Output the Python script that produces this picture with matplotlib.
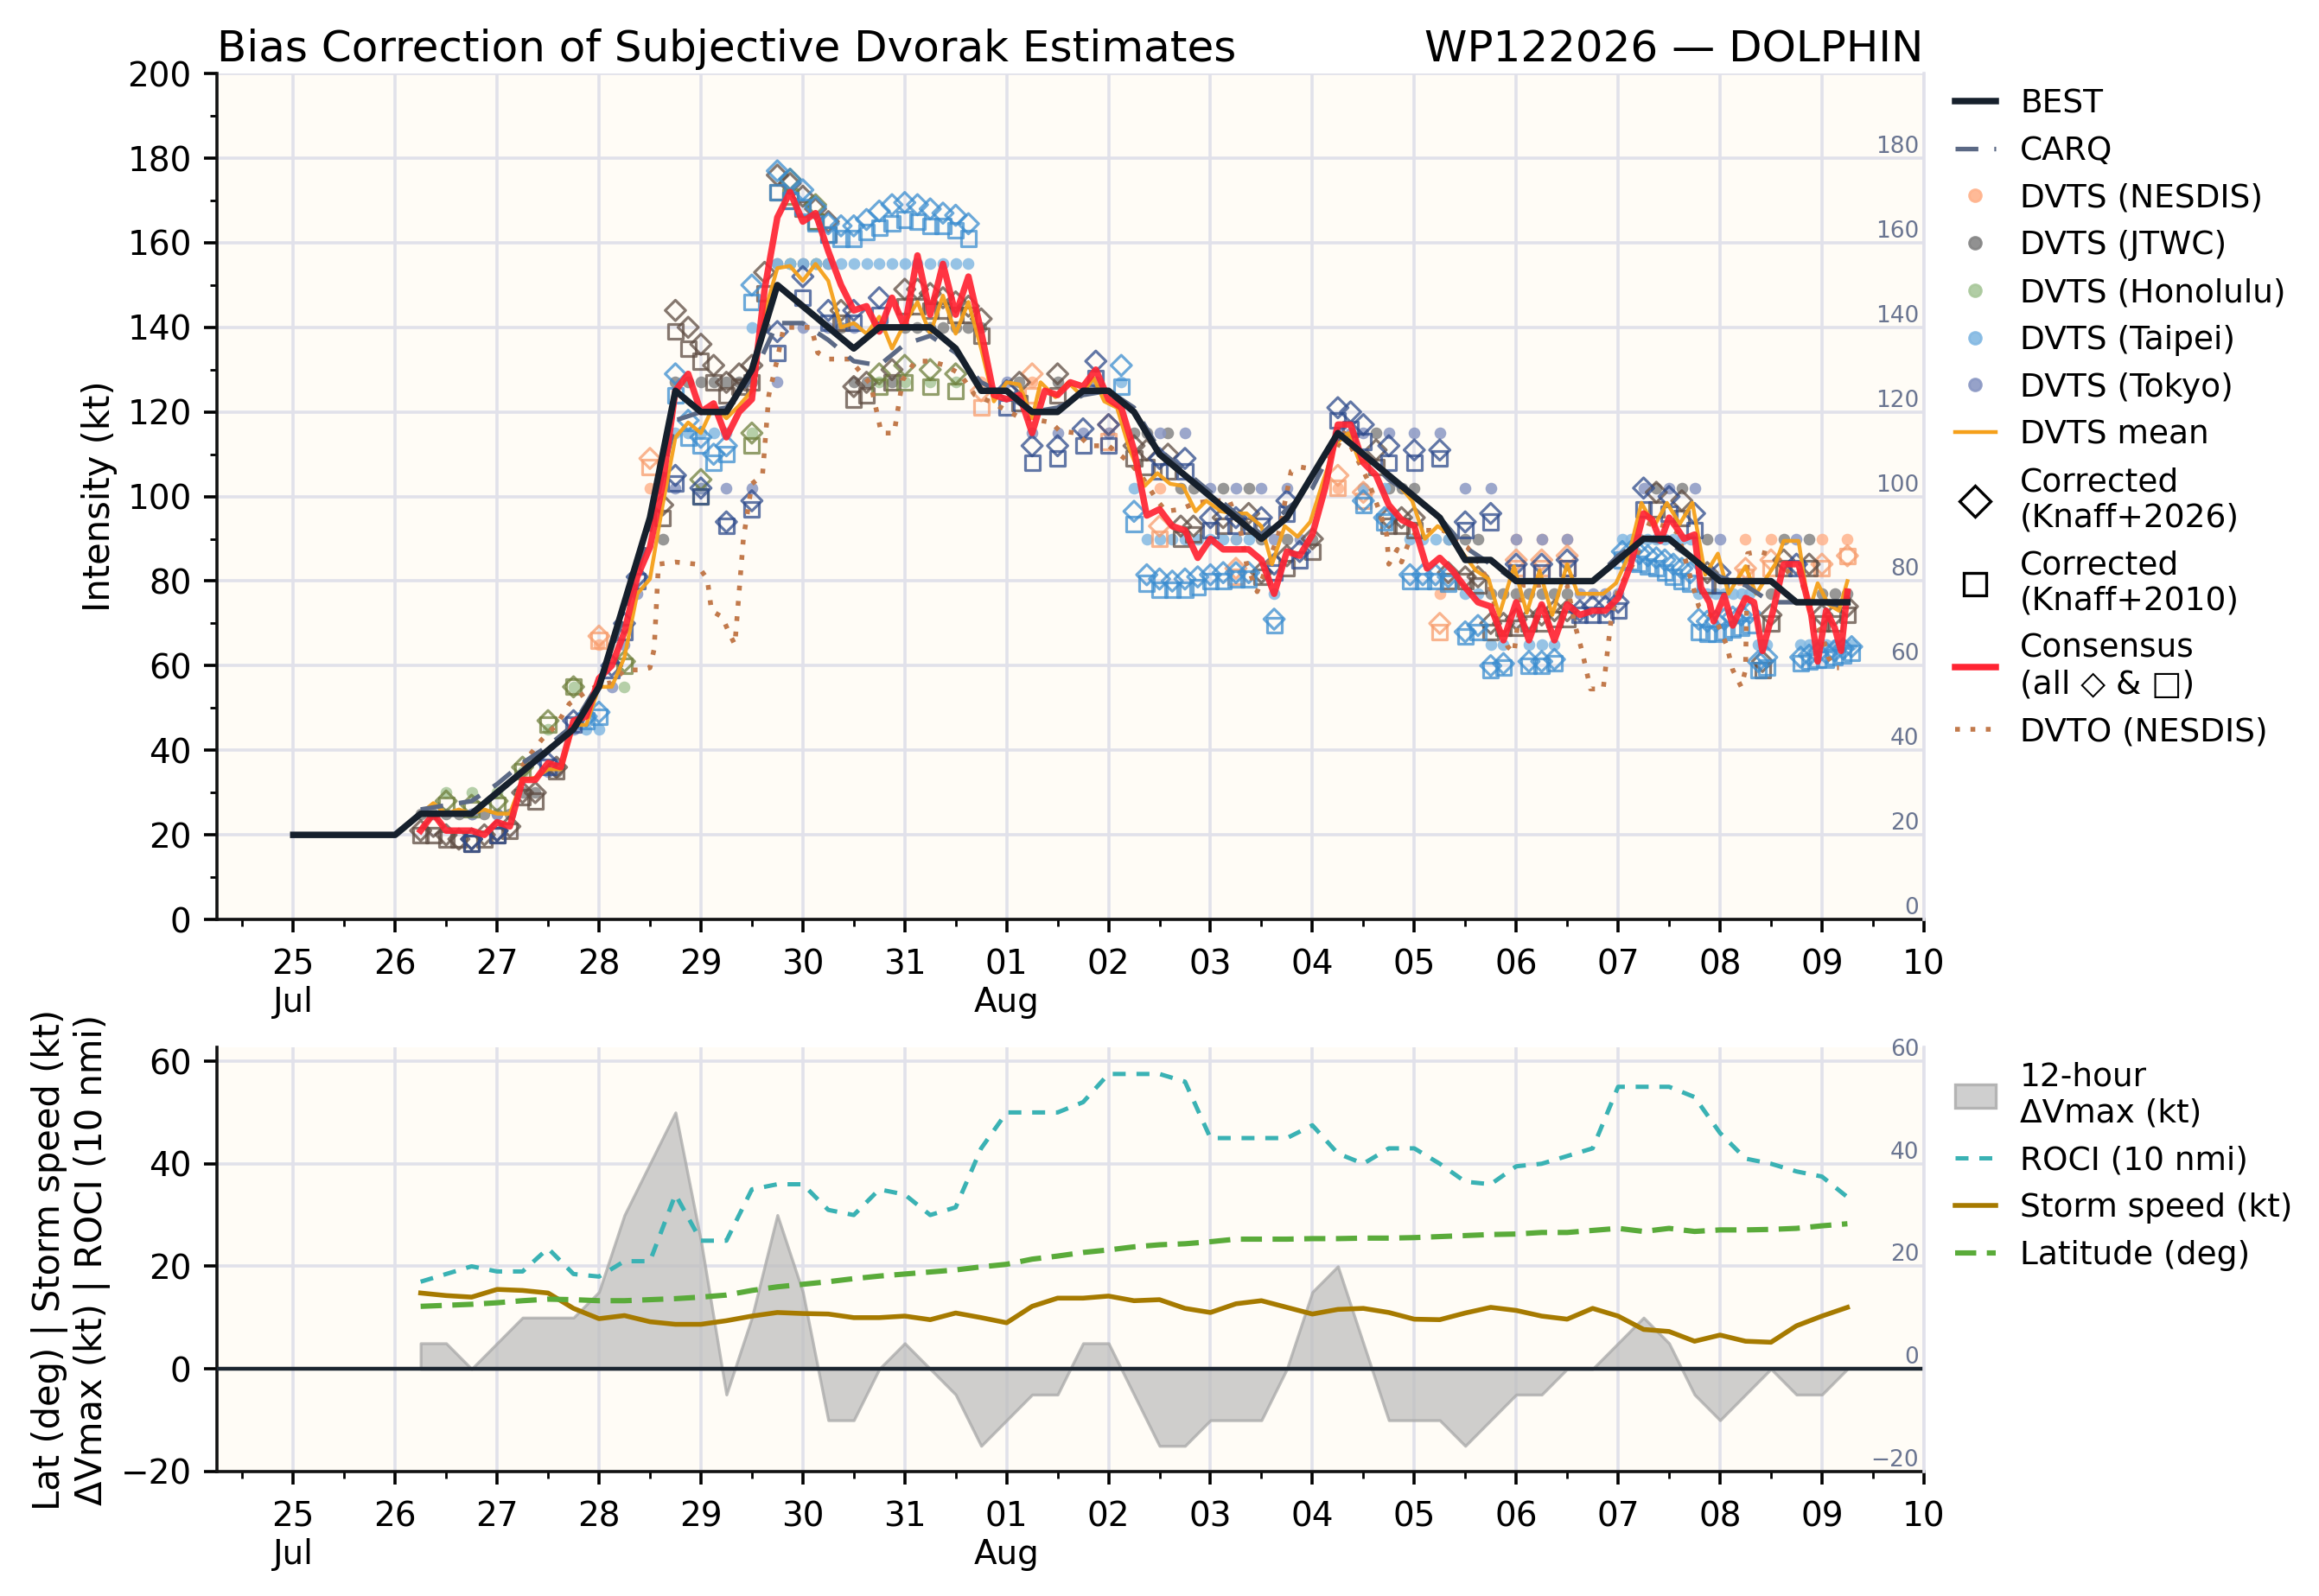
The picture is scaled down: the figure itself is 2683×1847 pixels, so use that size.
import datetime as dt
import numpy as np
import matplotlib
matplotlib.use("Agg")
import matplotlib.pyplot as plt
import matplotlib.dates as mdates
from matplotlib.lines import Line2D
from matplotlib.patches import Patch
from matplotlib.ticker import MultipleLocator, FuncFormatter

# ---- data (hours after 2026-07-25 00Z) ----
best_h = list(range(0, 367, 6))
best_v = [20, 20, 20, 20, 20, 25, 25, 25, 30, 35, 40, 45, 55, 75, 95, 125,
          120, 120, 130, 150, 145, 140, 135, 140, 140, 140, 135, 125,
          125, 120, 120, 125, 125, 120, 110, 105, 100, 95, 90, 95,
          105, 115, 110, 105, 100, 95, 85, 85, 80, 80, 80, 80,
          85, 90, 90, 85, 80, 80, 80, 75, 75, 75]

env_h = list(range(30, 367, 6))
carq_v = [26, 27, 28, 32, 37, 41, 46, 56, 72, 92, 118, 120, 121, 128, 141,
          141, 137, 132, 131, 136, 138, 134, 127, 124, 120, 121, 124,
          125, 121, 111, 106, 101, 96, 91, 97, 102, 114, 110, 104,
          100, 95, 88, 84, 80, 80, 80, 80, 86, 90, 89, 85, 81, 79, 75, 75, 75, 74]
dv12 = [5, 5, 0, 5, 10, 10, 10, 15, 30, 40, 50, 25, -5, 10, 30, 15, -10, -10, 0,
        5, 0, -5, -15, -10, -5, -5, 5, 5, -5, -15, -15, -10, -10, -10, 0,
        15, 20, 5, -10, -10, -10, -15, -10, -5, -5, 0, 0, 5, 10, 5, -5,
        -10, -5, 0, -5, -5, 0]
roci = [17, 18.5, 20, 19, 19, 23.5, 18.5, 18, 21, 21, 34, 25, 25, 35, 36,
        36, 31, 30, 35, 34, 30, 31.5, 43, 50, 50, 50, 52, 57.5, 57.5, 57.5, 56,
        45, 45, 45, 45, 47.5, 42, 40, 43, 43, 40, 36.5, 36, 39.5, 40, 41.5, 43,
        55, 55, 55, 53, 46, 41, 40, 38.5, 37.5, 33.5]
speed = [14.8, 14.3, 14, 15.5, 15.3, 14.8, 11.8, 9.8, 10.4, 9.2, 8.7, 8.7, 9.4,
         10.3, 11, 10.8, 10.7, 10, 10, 10.3, 9.6, 10.9, 10, 9, 12.2, 13.8, 13.8,
         14.2, 13.3, 13.5, 11.8, 11, 12.7, 13.3, 12, 10.7, 11.6, 11.8, 11, 9.7,
         9.6, 10.9, 12, 11.4, 10.3, 9.7, 11.8, 10.3, 7.7, 7.3, 5.4, 6.6, 5.4,
         5.2, 8.4, 10.3, 12]
lat = [12.2, 12.4, 12.6, 12.9, 13.3, 13.6, 13.5, 13.3, 13.3, 13.5, 13.7, 14.0,
       14.4, 15.3, 16.0, 16.5, 17.0, 17.6, 18.1, 18.5, 18.9, 19.3, 19.9, 20.4,
       21.4, 22.0, 22.7, 23.2, 23.8, 24.2, 24.4, 24.8, 25.3, 25.3, 25.3, 25.4,
       25.4, 25.5, 25.5, 25.6, 25.8, 26.0, 26.2, 26.3, 26.6, 26.6, 27.0, 27.4,
       26.8, 27.4, 26.8, 27.1, 27.1, 27.2, 27.4, 27.9, 28.3]

# DVTS fixes per agency: (hour, DVTS kt, Knaff+2026 kt, Knaff+2010 kt)
nesdis = [(72, 65, 67, 66), (84, 102, 109, 107), (162, 127, 125, 121), (174, 127, 129, 124),
          (192, 115, 117, 113), (204, 102, 93, 90), (222, 90, 83, 81), (246, 102, 105, 102),
          (252, 102, 101, 99), (270, 77, 70, 68), (288, 90, 85, 83), (294, 90, 85, 83),
          (300, 90, 86, 83), (342, 90, 83, 81), (348, 90, 85, 83), (360, 90, 84, 83),
          (366, 90, 86, 86)]
jtwc = [(30, 25, 21, 20), (33, 25, 22, 20), (36, 25, 20, 19), (39, 25, 19, 19), (42, 25, 19, 18),
        (45, 25, 20, 19), (48, 25, 21, 20), (51, 25, 22, 21), (54, 30, 30, 29), (57, 30, 30, 28),
        (62, 35, 36, 35), (87, 90, 98, 95), (90, 127, 144, 139), (93, 127, 140, 135),
        (96, 127, 136, 132), (99, 127, 131, 127), (102, 127, 127, 124), (105, 127, 129, 126),
        (108, 127, 131, 127), (111, 140, 153, 148), (114, 155, 176, 172), (117, 155, 174, 170),
        (120, 155, 171, 168), (123, 155, 168, 165), (126, 155, 165, 162), (129, 140, 144, 141),
        (132, 127, 126, 123), (135, 127, 127, 124), (141, 127, 130, 127), (144, 140, 149, 145),
        (147, 140, 149, 145), (150, 140, 148, 144), (153, 140, 147, 144), (156, 140, 146, 143),
        (159, 140, 145, 143), (162, 140, 142, 138), (171, 127, 127, 122), (180, 127, 129, 124),
        (198, 115, 112, 109), (201, 115, 111, 107), (206, 115, 110, 106), (209, 102, 93, 90),
        (212, 102, 93, 91), (219, 102, 95, 93), (225, 102, 96, 93), (228, 90, 82, 81),
        (234, 90, 86, 83), (240, 90, 90, 87), (255, 115, 111, 107), (258, 102, 95, 93),
        (261, 102, 95, 93), (264, 102, 95, 92), (272, 90, 82, 80), (276, 90, 81, 80),
        (279, 90, 81, 79), (282, 77, 70, 68), (285, 77, 70, 69), (288, 77, 71, 69),
        (291, 77, 71, 70), (294, 77, 72, 70), (297, 77, 73, 71), (300, 77, 73, 71),
        (321, 102, 101, 97), (327, 102, 99, 95), (333, 90, 82, 79), (346, 65, 61, 59),
        (348, 77, 72, 70), (351, 90, 85, 83), (357, 90, 84, 83), (360, 77, 72, 70),
        (363, 77, 72, 70), (366, 77, 74, 72)]
honolulu = [(36, 30, 28, 27), (42, 30, 27, 26), (48, 30, 28, 27), (54, 35, 36, 35),
            (60, 45, 47, 46), (66, 55, 55, 55), (78, 55, 61, 60), (96, 102, 104, 100),
            (108, 115, 115, 112), (117, 155, 175, 171), (123, 155, 169, 165),
            (138, 127, 129, 126), (144, 127, 131, 127), (150, 127, 130, 126), (156, 127, 129, 125)]
taipei = [(69, 45, 48, 47), (72, 45, 49, 48), (90, 115, 129, 124), (93, 115, 118, 114),
          (96, 115, 114, 112), (99, 115, 110, 108), (102, 115, 112, 110), (108, 140, 150, 146),
          (114, 155, 177, 172), (117, 155, 175, 170), (120, 155, 172.5, 168.5), (123, 155, 168.5, 164.5),
          (126, 155, 164.5, 162), (129, 155, 164, 161), (132, 155, 164, 161), (135, 155, 165.5, 162.5),
          (138, 155, 167.5, 163.5), (141, 155, 169, 164.5), (144, 155, 169.5, 165.5), (147, 155, 169, 165),
          (150, 155, 168, 164), (153, 155, 167, 164), (156, 155, 166.5, 163), (159, 155, 164.5, 161),
          (195, 127, 131, 126), (198, 102, 96.5, 93.5), (201, 90, 81.5, 79.5), (204, 90, 80.5, 78),
          (207, 90, 80, 78), (210, 90, 80.5, 78), (213, 90, 81, 78.5), (216, 90, 81.5, 80),
          (219, 90, 82, 80), (222, 90, 82, 80.5), (225, 90, 82, 80.5), (231, 77, 71, 69.5),
          (252, 102, 99, 98), (257, 102, 95, 94), (263, 90, 81.5, 80), (266, 90, 81.5, 80),
          (269, 90, 81.5, 80), (272, 90, 81, 79.5), (276, 77, 68, 67), (279, 77, 69.5, 68),
          (282, 65, 60, 59), (285, 65, 60.5, 59.5), (291, 65, 61, 60), (294, 65, 61, 60),
          (297, 65, 61.5, 60.5), (313, 90, 87, 85), (315, 90, 87, 84.5), (317, 90, 86.5, 84),
          (319, 90, 86, 83.5), (321, 90, 85.5, 83), (323, 90, 85, 82), (325, 90, 84, 81),
          (327, 90, 83, 80), (329, 90, 82, 79.5), (331, 77, 71, 68), (333, 77, 70.5, 67.5),
          (335, 77, 70.5, 67.5), (337, 77, 71, 68), (339, 77, 71.5, 68.5), (341, 77, 72, 69),
          (343, 77, 72.5, 69.5), (345, 65, 61, 59), (347, 65, 62, 59.5), (355, 65, 62, 60.5),
          (357, 65, 62.5, 61), (359, 65, 63, 61.5), (361, 65, 63, 61.5), (363, 65, 63.5, 62),
          (365, 65, 64, 62.5), (367, 65, 64.5, 63)]
tokyo = [(42, 25, 19, 18), (48, 25, 21, 20), (60, 35, 37, 36), (66, 45, 47, 46), (75, 55, 60, 59),
         (78, 65, 70, 68), (81, 77, 81, 80), (90, 102, 105, 103), (96, 102, 102, 100),
         (102, 102, 94, 93), (108, 102, 99, 97), (114, 127, 139, 134), (120, 140, 152, 147),
         (126, 140, 144, 141), (132, 140, 144, 141), (138, 140, 147, 143), (168, 127, 125, 121),
         (174, 115, 112, 108), (180, 115, 112, 109), (186, 115, 116, 112), (189, 127, 132, 128),
         (192, 115, 117, 112), (204, 115, 109, 106), (210, 115, 109, 106), (216, 102, 95, 92),
         (222, 102, 95, 93), (228, 102, 95, 93), (231, 90, 84, 82), (234, 102, 99, 96),
         (237, 90, 87, 85), (246, 115, 121, 118), (249, 115, 120, 116), (252, 115, 117, 113),
         (258, 115, 112, 108), (264, 115, 111, 108), (270, 115, 111, 109), (276, 102, 94, 92),
         (282, 102, 96, 94), (288, 90, 84, 82), (294, 90, 84, 82), (300, 90, 85, 83),
         (303, 77, 73, 72), (306, 77, 74, 72), (309, 77, 74, 72), (312, 77, 75, 73),
         (318, 102, 102, 97), (324, 102, 100, 96), (330, 102, 96, 92), (336, 90, 82, 79),
         (354, 90, 84, 83)]

dvts_mean = [(30, 25), (33, 27.5), (36, 25), (39, 26), (42, 25), (45, 26), (48, 25), (51, 25),
             (54, 33), (57, 33.5), (60, 35.5), (63, 35.5), (66, 46), (69, 46), (72, 55), (75, 55),
             (78, 62), (81, 77), (84, 80.5), (87, 98), (90, 114), (93, 117.5), (96, 115), (99, 121.5),
             (102, 118.5), (105, 121.5), (108, 125), (111, 143.5), (114, 154), (117, 154.5), (120, 151),
             (123, 155), (126, 151), (129, 140), (132, 141), (135, 138.5), (138, 142.5), (141, 135),
             (144, 141), (147, 146), (150, 138.5), (153, 147.5), (156, 138.5), (159, 146), (162, 135),
             (165, 122.5), (168, 127), (171, 126.5), (174, 118.5), (176, 127), (179.5, 123.5),
             (182.5, 127), (185.5, 124), (188.5, 128), (191, 122.5), (194, 121), (197, 111),
             (200.5, 102.5), (203.5, 105.5), (206.5, 103), (209.5, 102.5), (212.5, 96.5), (215, 99),
             (218.5, 96.5), (221.5, 96), (224.5, 96), (228, 93), (230.5, 84), (233.5, 93),
             (236.5, 90.5), (239.5, 94), (242.5, 103.5), (245.5, 112.5), (248.5, 115), (251, 108.5),
             (254.5, 108), (257.5, 105), (260.5, 102.5), (263.5, 99), (266.5, 90), (269.5, 93),
             (272.5, 91), (275.5, 86.5), (278.5, 82.5), (281.5, 80.5), (284, 72), (287.5, 83.5),
             (290.5, 72.5), (293.5, 82.5), (296.5, 72), (300, 84), (302.5, 77), (305.5, 77),
             (308.5, 77), (311.5, 79.5), (314.5, 86), (317.5, 98.5), (320.5, 93), (323.5, 98.5),
             (326.5, 93.5), (329.5, 98.5), (332.5, 81.5), (335.5, 86.5), (338, 77), (342, 83.5),
             (344.5, 77), (349, 84), (351, 89.5), (354.5, 89.5), (357, 73), (359, 79.5),
             (361.5, 74.5), (364, 73), (366, 80)]
consensus = [(30, 21), (33, 25), (36, 21), (39, 21), (42, 21), (45, 20), (48, 23), (51, 22),
             (54, 33), (57, 33), (60, 37), (63, 36), (66, 47), (69, 48), (72, 57), (75, 60),
             (78, 68), (81, 81), (84, 88), (87, 103), (90, 125), (93, 129), (96, 120), (99, 122),
             (102, 114), (105, 120), (108, 123), (111, 149), (114, 166), (117, 172), (120, 165),
             (123, 167), (126, 158), (129, 150), (132, 144), (135, 145), (138, 139), (141, 147),
             (144, 140), (147, 157), (150, 143), (153, 155), (156, 143), (159, 152), (162, 139),
             (165, 124), (168, 123), (171, 124), (174, 115), (177, 125), (180, 124), (183, 127),
             (186, 126), (189, 130), (192, 123), (195, 121), (198, 111), (201, 95.5), (204, 97),
             (207, 93), (210, 92), (213, 85.5), (216, 90), (219, 87.5), (222, 87.5), (225, 87.5),
             (228, 85), (231, 77), (234, 87), (237, 86), (240, 91), (243, 102), (246, 117),
             (249, 117), (252, 108), (255, 105), (258, 98), (261, 94.5), (264, 93), (267, 83),
             (270, 85.5), (273, 82.5), (276, 78.5), (279, 75), (282, 74), (285, 66), (288, 75),
             (291, 66), (294, 74.5), (297, 66), (300, 74.5), (303, 72), (306, 73), (309, 73),
             (312, 76), (315, 84), (318, 96), (320, 94.5), (322, 89.5), (324, 95), (325.5, 93),
             (327.5, 90), (330, 91), (331.5, 78.5), (333.5, 75), (334.5, 70.5), (337, 76.5),
             (339, 69.5), (342, 76), (344, 75), (346, 63.5), (348.5, 73), (351, 84), (354.5, 84),
             (357.5, 72), (359, 61), (361, 73), (363, 69), (364.5, 63.5), (366, 77.5)]
dvto = [(52, 33), (55, 38), (58.5, 42.5), (62, 46), (65, 51), (68.5, 53.5), (72, 55.5), (75, 56),
        (78, 59), (81.5, 59), (84, 59.5), (85, 64), (86, 84), (90, 84.5), (95, 84), (97.5, 80.5),
        (98.5, 73), (101, 71.5), (103, 67), (104, 65), (106, 90), (108, 103), (110.5, 105),
        (112, 124), (114, 132.5), (115.5, 140), (122, 140), (123.5, 134), (126, 132.5),
        (131, 132.5), (136, 126.5), (138.5, 115), (141.5, 115), (143.5, 127.5), (146.5, 132),
        (150, 132), (153.5, 131), (157, 129), (160.5, 124), (164, 122.5), (170.5, 119),
        (178.5, 117.5), (180.5, 115.5), (184.5, 115), (187.5, 112), (192, 112), (197, 108),
        (200, 104.5), (203.5, 99), (205.5, 96.5), (209, 97), (212.5, 98.5), (216.5, 99),
        (220.5, 99), (223, 92.5), (224.5, 84), (227, 77.5), (229.5, 84), (232, 91), (235, 106),
        (237, 107), (240, 106.5), (242.5, 107.5), (245, 110), (247.5, 115), (250, 110),
        (253, 104), (256, 96), (257.5, 91), (258, 84), (260, 87.5), (261, 84.5), (263, 90),
        (265, 92), (268.5, 92), (271, 92), (273, 90), (276.5, 88), (279.5, 84), (282, 78),
        (284, 70), (286, 64.5), (287.5, 63), (289.5, 79), (293.5, 79), (296.5, 80), (300, 79),
        (302, 69), (303.5, 63.5), (305.5, 54.5), (308.5, 54.5), (309.5, 63.5), (310.5, 72),
        (312, 78), (315.5, 84), (319.5, 94), (323, 93), (326, 91.5), (331, 74), (335, 71),
        (337.5, 65), (339, 59), (341, 55), (342, 59), (342.5, 86.5), (345, 87), (347, 86.5),
        (350, 85), (352.5, 81.5), (354.5, 82.5), (357.5, 72), (360, 67.5), (361.5, 62),
        (363, 59.5), (364, 59.5)]

T0 = mdates.date2num(dt.datetime(2026, 7, 25))


def tt(h):
    return T0 + np.asarray(h, dtype=float) / 24.0


C_BEST = '#16202c'
C_CARQ = '#5b6985'
C_MEAN = '#f5a01a'
C_CONS = '#ff2433'
C_DVTO = '#c27a4c'
GRID = '#e1e1ea'
FACE = '#fffcf6'
RLAB = '#6a7591'

agencies = [
    ('DVTS (NESDIS)', nesdis, '#ffb38c', '#f79c6c'),
    ('DVTS (JTWC)', jtwc, '#858585', '#5e4c42'),
    ('DVTS (Honolulu)', honolulu, '#a9c89b', '#6e7f3c'),
    ('DVTS (Taipei)', taipei, '#84b9e3', '#3b8dd0'),
    ('DVTS (Tokyo)', tokyo, '#8b98c4', '#2d4a8c'),
]

plt.rcParams['font.family'] = ['DejaVu Sans']
fig = plt.figure(figsize=(13.415, 9.235), dpi=200)
ax = fig.add_axes([0.0935, 0.4239, 0.7361, 0.5300])
bx = fig.add_axes([0.0935, 0.0780, 0.7361, 0.2658])

xmin, xmax = T0 - 0.75, T0 + 16


def day_fmt(x, pos):
    d = mdates.num2date(x)
    if d.day == 1 or (d.month == 7 and d.day == 25):
        return '%02d\n%s' % (d.day, d.strftime('%b'))
    return '%02d' % d.day


for a in (ax, bx):
    a.set_facecolor(FACE)
    a.set_xlim(xmin, xmax)
    a.xaxis.set_major_locator(MultipleLocator(1))
    a.xaxis.set_minor_locator(MultipleLocator(0.5))
    a.xaxis.set_major_formatter(FuncFormatter(day_fmt))
    a.grid(True, which='major', color=GRID, lw=1.3, zorder=0)
    a.set_axisbelow(True)
    a.spines['top'].set_visible(False)
    a.spines['right'].set_visible(False)
    for s in ('left', 'bottom'):
        a.spines[s].set_color('#111111')
        a.spines[s].set_linewidth(1.3)
    a.tick_params(axis='both', which='major', labelsize=14, length=5.5, width=1.3, pad=5)
    a.tick_params(axis='x', which='major', pad=6.5)
    a.tick_params(axis='both', which='minor', length=2.8, width=1.0)

# ---- top panel ----
for name, rows, c_dot, c_cor in agencies:
    h, v, k26, k10 = zip(*rows)
    ax.scatter(tt(h), v, s=24, color=c_dot, alpha=0.85, lw=0, zorder=2)
    ax.scatter(tt(h), k26, marker='D', s=36, facecolors='none', edgecolors=c_cor,
               linewidths=1.15, alpha=0.75, zorder=3)
    ax.scatter(tt(h), k10, marker='s', s=38, facecolors='none', edgecolors=c_cor,
               linewidths=1.15, alpha=0.75, zorder=3)

h, v = zip(*dvto)
ax.plot(tt(h), v, color=C_DVTO, ls=(0, (1, 2.2)), lw=2.0, zorder=3.5)
h, v = zip(*dvts_mean)
ax.plot(tt(h), v, color=C_MEAN, lw=1.6, alpha=0.95, zorder=4)
ax.plot(tt(env_h), carq_v, color=C_CARQ, ls=(0, (5, 3.5)), lw=1.9, zorder=4)
h, v = zip(*consensus)
ax.plot(tt(h), v, color=C_CONS, lw=2.7, alpha=0.92, zorder=5)
ax.plot(tt(best_h), best_v, color=C_BEST, lw=2.7, zorder=6)

ax.set_ylim(0, 200)
ax.yaxis.set_major_locator(MultipleLocator(20))
ax.yaxis.set_minor_locator(MultipleLocator(10))
ax.set_ylabel('Intensity (kt)', fontsize=15)
ax.set_title('Bias Correction of Subjective Dvorak Estimates', loc='left', fontsize=18, pad=5)
ax.set_title('WP122026 \u2014 DOLPHIN', loc='right', fontsize=18, pad=5)

ar = ax.twinx()
ar.set_ylim(0, 200)
ar.set_yticks(range(0, 181, 20))
ar.tick_params(axis='y', length=0, pad=-2, labelsize=9.5, labelcolor=RLAB)
for lab in ar.get_yticklabels():
    lab.set_ha('right')
    lab.set_va('bottom')
for s in ('top', 'left', 'bottom'):
    ar.spines[s].set_visible(False)
ar.spines['right'].set_color(GRID)
ar.spines['right'].set_linewidth(1.3)

handles = [
    Line2D([], [], color=C_BEST, lw=2.7),
    Line2D([], [], color=C_CARQ, lw=1.9, ls=(0, (5, 3.5))),
]
labels = ['BEST', 'CARQ']
for name, rows, c_dot, c_cor in agencies:
    handles.append(Line2D([], [], ls='', marker='o', ms=5, color=c_dot, alpha=0.9))
    labels.append(name)
handles += [
    Line2D([], [], color=C_MEAN, lw=1.6),
    Line2D([], [], ls='', marker='D', ms=9, mfc='none', mec='black', mew=1.2),
    Line2D([], [], ls='', marker='s', ms=9.5, mfc='none', mec='black', mew=1.2),
    Line2D([], [], color=C_CONS, lw=2.7),
    Line2D([], [], color=C_DVTO, lw=2.0, ls=(0, (1, 2.2))),
]
labels += ['DVTS mean', 'Corrected\n(Knaff+2026)', 'Corrected\n(Knaff+2010)',
           'Consensus\n(all \u25c7 & \u25a1)', 'DVTO (NESDIS)']
ax.legend(handles, labels, loc='upper left', bbox_to_anchor=(1.0098, 1.0), frameon=False,
          fontsize=13.5, handlelength=1.25, handletextpad=0.75, borderaxespad=0.05)

# ---- bottom panel ----
bx.fill_between(tt(env_h), 0, dv12, color='#bfbfbf', alpha=0.75, edgecolor='#a8a8a8',
                lw=1.2, zorder=2)
bx.axhline(0, color='#1b2530', lw=1.6, zorder=3)
bx.plot(tt(env_h), roci, color='#3ab2b4', ls=(0, (3, 2.5)), lw=1.8, zorder=4)
bx.plot(tt(env_h), speed, color='#a67a00', lw=2.0, zorder=4)
bx.plot(tt(env_h), lat, color='#5aab3a', ls=(0, (4, 2)), lw=2.2, zorder=4)
bx.set_ylim(-20, 62.7)
bx.yaxis.set_major_locator(MultipleLocator(20))
bx.set_ylabel('Lat (deg) | Storm speed (kt)\n\u0394Vmax (kt) | ROCI (10 nmi)', fontsize=15)

br = bx.twinx()
br.set_ylim(-20, 62.7)
br.set_yticks(range(-20, 61, 20))
br.tick_params(axis='y', length=0, pad=-2, labelsize=9.5, labelcolor=RLAB)
for lab in br.get_yticklabels():
    lab.set_ha('right')
    lab.set_va('bottom')
for s in ('top', 'left', 'bottom'):
    br.spines[s].set_visible(False)
br.spines['right'].set_color(GRID)
br.spines['right'].set_linewidth(1.3)

bh = [
    Patch(facecolor='#cfcfcf', edgecolor='#b4b4b4', lw=1.2),
    Line2D([], [], color='#3ab2b4', ls=(0, (3, 2.5)), lw=1.8),
    Line2D([], [], color='#a67a00', lw=2.0),
    Line2D([], [], color='#5aab3a', ls=(0, (4, 2)), lw=2.2),
]
bl = ['12-hour\n\u0394Vmax (kt)', 'ROCI (10 nmi)', 'Storm speed (kt)', 'Latitude (deg)']
bx.legend(bh, bl, loc='upper left', bbox_to_anchor=(1.0098, 1.0), frameon=False,
          fontsize=13.5, handlelength=1.25, handletextpad=0.75, borderaxespad=0.05)

fig.savefig('out.png', dpi=200, facecolor='white')
